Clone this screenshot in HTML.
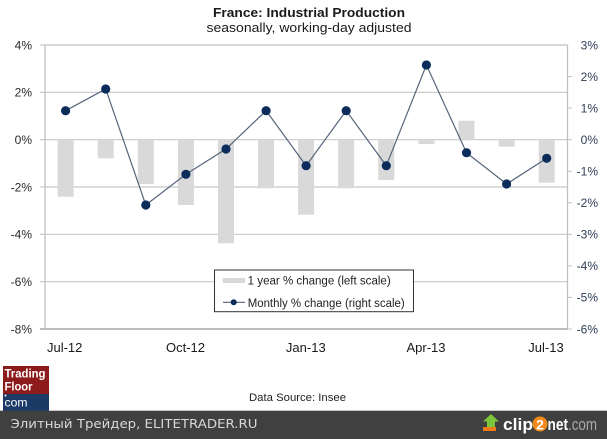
<!DOCTYPE html>
<html><head><meta charset="utf-8"><style>
html,body{margin:0;padding:0;background:#fff;}
svg{display:block;}
text{font-family:"Liberation Sans",sans-serif;}
</style></head><body>
<svg width="607" height="439" viewBox="0 0 607 439" xmlns="http://www.w3.org/2000/svg">
<rect x="0" y="0" width="607" height="439" fill="#fff"/>
<!-- title -->
<text x="309" y="17" text-anchor="middle" font-size="13" font-weight="bold" fill="#1a1a1a" textLength="192" lengthAdjust="spacingAndGlyphs">France: Industrial Production</text>
<text x="309" y="32" text-anchor="middle" font-size="13" fill="#1a1a1a" textLength="205" lengthAdjust="spacingAndGlyphs">seasonally,  working-day adjusted</text>

<!-- gridlines -->
<g stroke="#c8c8c8" stroke-width="1.2">
<line x1="45" y1="92.3" x2="567" y2="92.3"/>
<line x1="45" y1="139.7" x2="567" y2="139.7"/>
<line x1="45" y1="187" x2="567" y2="187"/>
<line x1="45" y1="234.3" x2="567" y2="234.3"/>
<line x1="45" y1="281.7" x2="567" y2="281.7"/>
</g>
<!-- plot border -->
<g stroke="#c0c0c0" stroke-width="1.3" fill="none">
<line x1="45" y1="45" x2="567.5" y2="45"/>
<line x1="567.5" y1="45" x2="567.5" y2="329"/>
<line x1="45" y1="45" x2="45" y2="329"/>
</g>
<line x1="40" y1="329" x2="567.5" y2="329" stroke="#bdbdbd" stroke-width="2"/>
<!-- ticks -->
<g stroke="#c0c0c0" stroke-width="1">
<line x1="40" y1="45" x2="45" y2="45"/><line x1="40" y1="92.3" x2="45" y2="92.3"/><line x1="40" y1="139.7" x2="45" y2="139.7"/><line x1="40" y1="187" x2="45" y2="187"/><line x1="40" y1="234.3" x2="45" y2="234.3"/><line x1="40" y1="281.7" x2="45" y2="281.7"/>
<line x1="567" y1="76.6" x2="572" y2="76.6"/><line x1="567" y1="108.1" x2="572" y2="108.1"/><line x1="567" y1="139.7" x2="572" y2="139.7"/><line x1="567" y1="171.2" x2="572" y2="171.2"/><line x1="567" y1="202.8" x2="572" y2="202.8"/><line x1="567" y1="234.3" x2="572" y2="234.3"/><line x1="567" y1="265.9" x2="572" y2="265.9"/><line x1="567" y1="297.4" x2="572" y2="297.4"/><line x1="567" y1="329" x2="572" y2="329"/>
</g>

<!-- left labels -->
<g font-size="12" fill="#2a2a2a" text-anchor="end">
<text x="32" y="49.3">4%</text>
<text x="32" y="96.6">2%</text>
<text x="32" y="144">0%</text>
<text x="32" y="191.3">-2%</text>
<text x="32" y="238.6">-4%</text>
<text x="32" y="286">-6%</text>
<text x="32" y="333.3">-8%</text>
</g>
<!-- right labels -->
<g font-size="12" fill="#2e3d55" text-anchor="end">
<text x="598" y="49.3">3%</text>
<text x="598" y="80.9">2%</text>
<text x="598" y="112.4">1%</text>
<text x="598" y="144">0%</text>
<text x="598" y="175.5">-1%</text>
<text x="598" y="207.1">-2%</text>
<text x="598" y="238.6">-3%</text>
<text x="598" y="270.2">-4%</text>
<text x="598" y="301.7">-5%</text>
<text x="598" y="333.3">-6%</text>
</g>

<!-- bars -->
<g fill="#d9d9d9">
<rect x="57.6" y="139.7" width="16" height="57"/>
<rect x="97.7" y="139.7" width="16" height="18.6"/>
<rect x="137.8" y="139.7" width="16" height="44.3"/>
<rect x="177.9" y="139.7" width="16" height="65.3"/>
<rect x="218" y="139.7" width="16" height="103.6"/>
<rect x="258.1" y="139.7" width="16" height="48.6"/>
<rect x="298.1" y="139.7" width="16" height="75"/>
<rect x="338.2" y="139.7" width="16" height="48.6"/>
<rect x="378.3" y="139.7" width="16" height="40.3"/>
<rect x="418.4" y="139.7" width="16" height="4.3"/>
<rect x="458.5" y="120.7" width="16" height="19"/>
<rect x="498.6" y="139.7" width="16" height="7"/>
<rect x="538.7" y="139.7" width="16" height="43"/>
</g>

<!-- line -->
<polyline fill="none" stroke="#56657a" stroke-width="1.2" points="65.6,110.7 105.7,89 145.8,205 185.9,174.3 226,149 266.1,110.7 306.1,165.7 346.2,110.7 386.3,165.7 426.4,65 466.5,152.7 506.6,184 546.7,158.3"/>
<g fill="#0c2d5c">
<circle cx="65.6" cy="110.7" r="4.6"/>
<circle cx="105.7" cy="89" r="4.6"/>
<circle cx="145.8" cy="205" r="4.6"/>
<circle cx="185.9" cy="174.3" r="4.6"/>
<circle cx="226" cy="149" r="4.6"/>
<circle cx="266.1" cy="110.7" r="4.6"/>
<circle cx="306.1" cy="165.7" r="4.6"/>
<circle cx="346.2" cy="110.7" r="4.6"/>
<circle cx="386.3" cy="165.7" r="4.6"/>
<circle cx="426.4" cy="65" r="4.6"/>
<circle cx="466.5" cy="152.7" r="4.6"/>
<circle cx="506.6" cy="184" r="4.6"/>
<circle cx="546.7" cy="158.3" r="4.6"/>
</g>

<!-- legend -->
<rect x="214.5" y="270" width="199" height="41.7" fill="#fff" stroke="#333" stroke-width="1"/>
<rect x="222.7" y="278" width="22.3" height="5" fill="#d9d9d9"/>
<text x="247.7" y="284.5" font-size="11.5" fill="#222" textLength="143" lengthAdjust="spacingAndGlyphs">1 year % change (left scale)</text>
<line x1="223" y1="302.3" x2="245" y2="302.3" stroke="#56657a" stroke-width="1.2"/>
<circle cx="233.7" cy="302.3" r="3" fill="#0c2d5c"/>
<text x="247.7" y="307" font-size="11.5" fill="#222" textLength="157" lengthAdjust="spacingAndGlyphs">Monthly % change (right scale)</text>

<!-- x labels -->
<g font-size="13" fill="#1a1a1a" text-anchor="middle">
<text x="64.7" y="352">Jul-12</text>
<text x="185.5" y="352">Oct-12</text>
<text x="305.8" y="352">Jan-13</text>
<text x="426" y="352">Apr-13</text>
<text x="546" y="352">Jul-13</text>
</g>

<!-- Trading floor logo -->
<rect x="3" y="366" width="46" height="28" fill="#8e1b1b"/>
<rect x="3" y="394" width="46" height="17" fill="#1b3a66"/>
<text x="4.5" y="377.5" font-size="12" font-weight="bold" fill="#fff" textLength="41" lengthAdjust="spacingAndGlyphs">Trading</text>
<text x="4.5" y="390.5" font-size="12" font-weight="bold" fill="#fff" textLength="28" lengthAdjust="spacingAndGlyphs">Floor</text>
<circle cx="5.5" cy="395.5" r="1" fill="#fff"/>
<text x="4.5" y="406.5" font-size="12" fill="#fff" textLength="23" lengthAdjust="spacingAndGlyphs">com</text>

<text x="297.5" y="401" text-anchor="middle" font-size="11" fill="#222" textLength="97" lengthAdjust="spacingAndGlyphs">Data Source:  Insee</text>

<!-- footer band -->
<rect x="0" y="410.7" width="607" height="28.3" fill="#404040"/>
<text x="10.5" y="428" font-size="12.5" fill="#d8d8d8" style="font-family:'DejaVu Sans',sans-serif" textLength="247" lengthAdjust="spacingAndGlyphs">Элитный Трейдер, ELITETRADER.RU</text>
<!-- clip2net logo -->
<polygon points="491,414 499,421.5 495,421.5 495,428 487,428 487,421.5 483,421.5" fill="#7cc63b"/>
<rect x="483" y="427" width="13" height="4" fill="#f07a1a"/>
<text x="503" y="430" font-size="17" font-weight="bold" fill="#fff" textLength="30" lengthAdjust="spacingAndGlyphs">clip</text>
<circle cx="540" cy="424" r="7.5" fill="#f08a1a"/>
<text x="540" y="429.5" font-size="14" font-weight="bold" fill="#fff" text-anchor="middle">2</text>
<text x="547.5" y="430" font-size="17" font-weight="bold" fill="#fff" textLength="20.5" lengthAdjust="spacingAndGlyphs">net</text>
<text x="568" y="430" font-size="17" fill="#a8a8a8" textLength="29" lengthAdjust="spacingAndGlyphs">.com</text>
</svg>
</body></html>
